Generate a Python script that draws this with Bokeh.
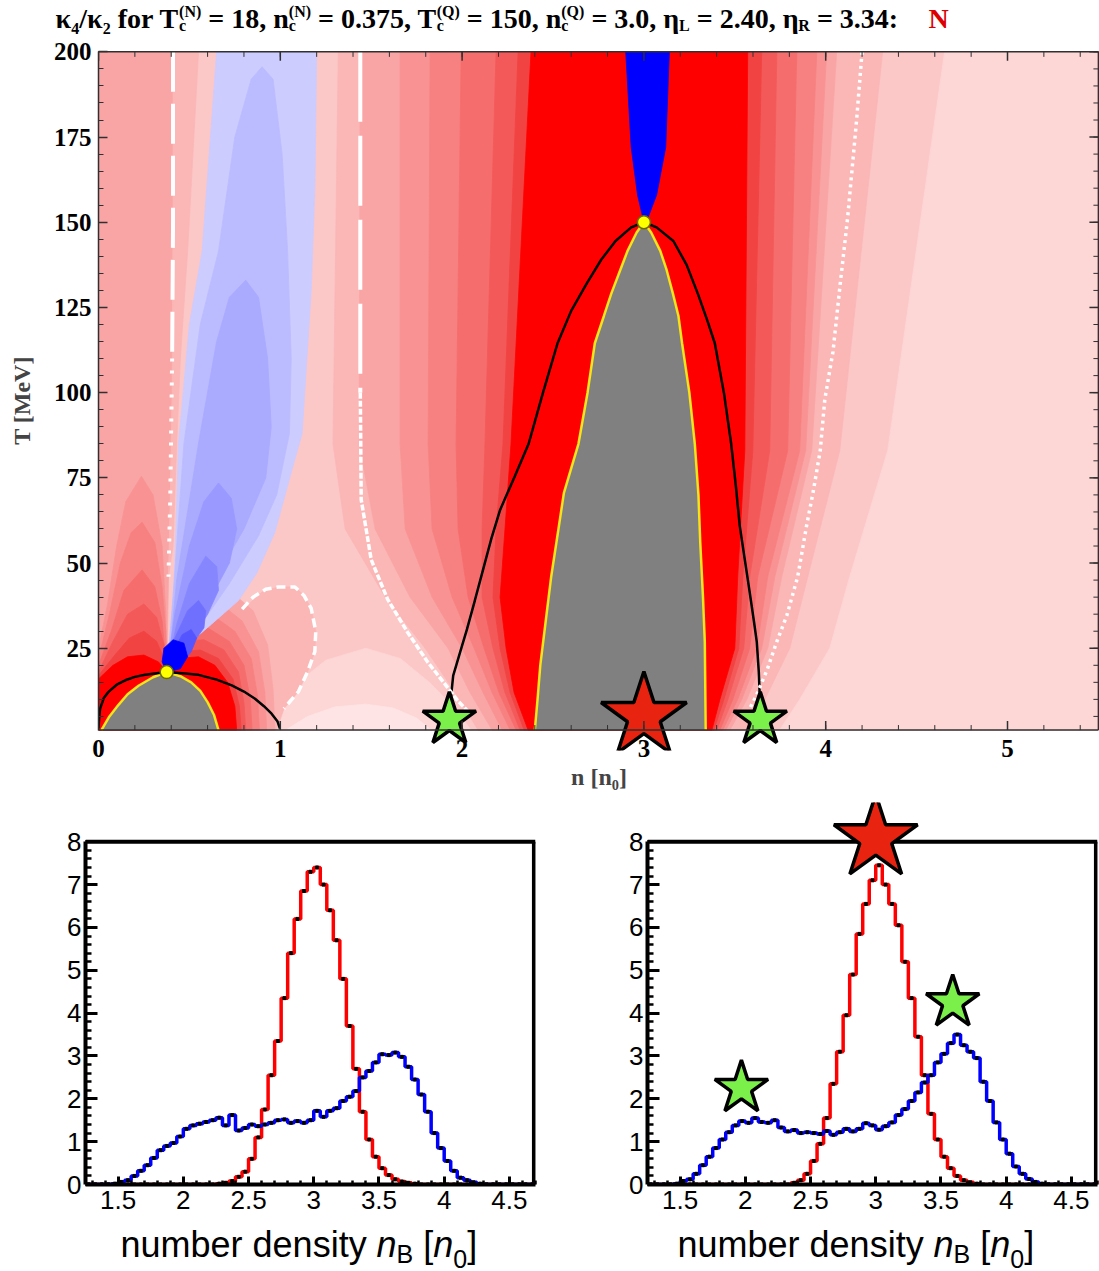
import numpy as np
from bokeh.plotting import figure
from bokeh.models import Range1d, LinearAxis, FixedTicker, Label, NumeralTickFormatter
from bokeh.layouts import column, row
from bokeh.embed import file_html
from bokeh.resources import INLINE

# ====================== kappa4/kappa2 map in the (n, T) plane ======================
N_LIM = (0.0, 5.506)
T_LIM = (-5.0, 200.4)
N_EDGE = 5.5
T_BASE = 1.0
T_TOP = 200.0
N_TICKS = [0, 1, 2, 3, 4, 5]
N_MINOR = [round(0.2 * i, 1) for i in range(28)]
T_TICKS = [25, 50, 75, 100, 125, 150, 175, 200]
T_MINOR = list(range(5, 201, 5))

CRIT_N = (0.375, 18)      # (n_c, T_c) nuclear critical point
CRIT_Q = (3.0, 150)       # (n_c, T_c) quark critical point
ETA_L, ETA_R = 2.40, 3.34

PINK = ["#fee4e4", "#fdd6d6", "#fcc7c7", "#fbb6b6", "#faa5a5", "#f99393",
        "#f78181", "#f66d6d", "#f45959", "#f24343", "#ff0000"]
BLUE = ["#ccccff", "#bbbbff", "#aaaaff", "#9999ff", "#8686ff", "#7070ff",
        "#5555ff", "#0000ff"]
GRAY = "#808080"
YELLOW = "#f4e41c"
AX_COL = "#303030"

# vertical bands around the quark critical point: left edges at BAND_LEFT_T,
# right edges at BAND_RIGHT_T (key = colour level)
BAND_LEFT_T = [1, 12, 25, 40, 60, 85, 200]
BAND_LEFT_N = {
    3: [2.088, 1.962, 1.797, 1.577, 1.357, 1.290, 1.319],
    4: [2.165, 2.044, 1.923, 1.714, 1.522, 1.434, 1.440],
    5: [2.220, 2.115, 2.000, 1.835, 1.687, 1.659, 1.659],
    6: [2.264, 2.165, 2.066, 1.945, 1.835, 1.813, 1.824],
    7: [2.297, 2.203, 2.121, 2.033, 1.978, 1.967, 1.995],
    8: [2.319, 2.236, 2.170, 2.110, 2.110, 2.126, 2.187],
    9: [2.341, 2.264, 2.209, 2.170, 2.187, 2.225, 2.308],
    10: [2.363, 2.286, 2.242, 2.209, 2.236, 2.269, 2.379],
}
BAND_RIGHT_T = [200, 83, 46, 25, 10, 1]
BAND_RIGHT_N = {
    2: [4.654, 4.341, 4.132, 4.022, 3.857, 3.747],
    3: [4.313, 4.077, 3.901, 3.802, 3.665, 3.555],
    4: [4.060, 3.923, 3.758, 3.681, 3.566, 3.473],
    5: [4.005, 3.890, 3.720, 3.648, 3.538, 3.451],
    6: [3.951, 3.857, 3.681, 3.621, 3.516, 3.434],
    7: [3.841, 3.791, 3.626, 3.582, 3.489, 3.418],
    8: [3.731, 3.692, 3.582, 3.549, 3.462, 3.401],
    9: [3.648, 3.599, 3.544, 3.522, 3.440, 3.385],
    10: [3.571, 3.555, 3.516, 3.500, 3.418, 3.374],
}

MOUND_OUTER = [(0.90, 1), (0.98, 7), (1.10, 15), (1.25, 21.5), (1.47, 25), (1.66, 22),
               (1.82, 15), (1.95, 8), (2.05, 1)]
MOUND_INNER = [(1.03, 1), (1.15, 5), (1.30, 7.8), (1.47, 8.6), (1.62, 7.5), (1.75, 4.5), (1.83, 1)]

LEFT_STRIP = [(0, 1), (0, 200), (0.41, 200), (0.41, 150), (0.405, 100), (0.395, 70),
              (0.385, 46), (0.375, 18), (0.2, 1)]
LEFT_STRIPE = [(0.385, 46), (0.395, 70), (0.405, 100), (0.41, 150), (0.41, 200), (0.55, 200),
               (0.49, 141.5), (0.45, 110), (0.43, 85), (0.41, 55)]

TONGUES = {
    5: [(0, 1), (0, 25), (0.05, 38), (0.10, 55), (0.15, 68), (0.236, 75.5), (0.30, 70),
        (0.35, 55), (0.37, 35), (0.375, 18), (0.375, 1)],
    6: [(0, 1), (0, 22), (0.06, 35), (0.12, 50), (0.18, 59), (0.24, 62), (0.31, 56),
        (0.35, 43), (0.37, 30), (0.375, 18), (0.375, 1)],
    7: [(0, 1), (0, 20), (0.07, 30), (0.14, 42), (0.24, 48), (0.31, 43), (0.35, 33),
        (0.375, 18), (0.375, 1)],
    8: [(0, 1), (0, 18), (0.08, 27), (0.16, 35), (0.25, 38), (0.32, 34), (0.36, 26),
        (0.375, 18), (0.375, 1)],
    9: [(0, 1), (0, 17), (0.09, 23), (0.17, 28), (0.25, 30), (0.32, 27), (0.36, 22),
        (0.375, 18), (0.375, 1)],
    10: [(0, 1), (0, 16), (0.08, 20), (0.16, 22.5), (0.25, 23), (0.33, 21), (0.375, 18),
         (0.375, 1)],
}

ARCS = {
    3: [(0.375, 1), (0.375, 18), (0.55, 40), (0.81, 37.2), (0.90, 41.5), (0.99, 43),
        (1.08, 43), (1.13, 40.5), (1.17, 36.7), (1.195, 30), (1.19, 24), (1.15, 18.1),
        (1.10, 12.3), (1.02, 7.3), (0.98, 1)],
    4: [(0.375, 1), (0.375, 18), (0.50, 45), (0.70, 43), (0.85, 36), (0.93, 26), (0.96, 13), (0.97, 1)],
    5: [(0.375, 1), (0.375, 18), (0.48, 40), (0.65, 39), (0.79, 33), (0.88, 24), (0.915, 12), (0.925, 1)],
    6: [(0.375, 1), (0.375, 18), (0.47, 35), (0.62, 35), (0.75, 30), (0.84, 22), (0.875, 11), (0.885, 1)],
    7: [(0.375, 1), (0.375, 18), (0.46, 31), (0.60, 31), (0.72, 27), (0.80, 20), (0.835, 10), (0.845, 1)],
    8: [(0.375, 1), (0.375, 18), (0.45, 27), (0.58, 27.5), (0.69, 24.5), (0.77, 18), (0.80, 9), (0.81, 1)],
    9: [(0.375, 1), (0.375, 18), (0.44, 24), (0.56, 24.5), (0.66, 22), (0.74, 16), (0.775, 8), (0.785, 1)],
    10: [(0.375, 1), (0.375, 18), (0.44, 22), (0.55, 22.5), (0.64, 20), (0.71, 15), (0.75, 8), (0.76, 1)],
}

PLUME = [
    [(0.375, 18), (0.40, 30), (0.42, 49), (0.44, 85), (0.50, 120), (0.57, 141.5), (0.65, 200),
     (1.20, 200), (1.19, 160), (1.17, 130), (1.12, 88), (1.07, 78.5), (0.97, 59), (0.87, 47),
     (0.77, 39), (0.62, 32), (0.49, 26)],
    [(0.38, 20), (0.41, 40), (0.47, 85), (0.56, 120), (0.66, 141.5), (0.75, 175), (0.84, 192),
     (0.90, 195.6), (0.96, 192), (1.01, 170), (1.04, 141.5), (1.06, 110), (1.05, 88), (0.98, 70),
     (0.88, 58), (0.72, 44), (0.55, 31), (0.45, 24)],
    [(0.39, 22), (0.43, 45), (0.55, 85), (0.65, 115), (0.72, 128), (0.81, 133), (0.88, 128),
     (0.93, 110), (0.95, 90), (0.92, 75), (0.80, 60), (0.65, 46), (0.50, 30)],
    [(0.375, 18), (0.42, 35), (0.50, 55), (0.58, 68), (0.66, 73.5), (0.73, 69), (0.76, 60),
     (0.72, 50), (0.62, 40), (0.50, 28)],
    [(0.375, 18), (0.43, 32), (0.50, 44), (0.59, 52), (0.65, 49), (0.66, 42), (0.60, 35), (0.48, 25)],
    [(0.375, 18), (0.42, 28), (0.49, 36), (0.55, 39), (0.59, 36), (0.58, 31), (0.50, 25), (0.44, 21)],
    [(0.375, 18), (0.41, 24), (0.46, 29), (0.51, 30.5), (0.54, 28), (0.51, 24), (0.45, 20)],
    [(0.375, 18), (0.35, 21), (0.36, 25), (0.41, 27.5), (0.47, 26.5), (0.49, 22.5), (0.45, 19)],
]
QUARK_COLUMN = [(3.0, 150), (2.965, 158), (2.93, 172), (2.90, 200), (3.14, 200), (3.12, 172),
                (3.07, 158), (3.02, 151)]

LEFT_SPINODAL = [(0.016, 1), (0.06, 5), (0.11, 8.4), (0.16, 11.5), (0.22, 14), (0.30, 16.5),
                 (0.375, 18), (0.45, 16.8), (0.51, 15), (0.56, 12.5), (0.60, 9.2), (0.635, 5.5),
                 (0.66, 1)]
LEFT_BINODAL = [(0.0, 1.5), (0.004, 5), (0.009, 7.3), (0.03, 10.5), (0.055, 12.2), (0.10, 14.3),
                (0.147, 15.6), (0.20, 16.6), (0.256, 17.2), (0.32, 17.7), (0.375, 18), (0.46, 17.7),
                (0.55, 17.2), (0.65, 15.8), (0.733, 14.1), (0.80, 12.3), (0.861, 10.2),
                (0.91, 8.0), (0.952, 5.8), (0.985, 3.5), (0.998, 1.4)]
RIGHT_SPINODAL = [(2.40, 1), (2.415, 10), (2.43, 20), (2.46, 33), (2.49, 46), (2.53, 60),
                  (2.56, 70.6), (2.64, 85), (2.69, 100), (2.73, 114.5), (2.78, 122.5), (2.82, 129),
                  (2.87, 136), (2.91, 141.6), (2.96, 147), (3.0, 150), (3.04, 147), (3.09, 141.6),
                  (3.125, 136), (3.16, 129), (3.19, 122.5), (3.21, 114.5), (3.25, 100), (3.28, 85),
                  (3.30, 70), (3.31, 56), (3.325, 40), (3.335, 26.8), (3.34, 1)]
RIGHT_BINODAL = [(1.934, 6), (1.94, 11.3), (1.951, 17), (1.99, 24), (2.027, 30.6), (2.07, 39),
                 (2.115, 48), (2.16, 57), (2.209, 65.6), (2.29, 75.5), (2.366, 85), (2.445, 100),
                 (2.525, 114.5), (2.60, 124), (2.685, 132), (2.765, 139), (2.844, 144.5),
                 (2.93, 148.5), (3.0, 150), (3.07, 148.5), (3.162, 144.5), (3.235, 137.5),
                 (3.297, 129), (3.35, 121), (3.39, 114.5), (3.44, 100), (3.48, 85), (3.505, 73),
                 (3.527, 61), (3.555, 51), (3.582, 41.4), (3.605, 33), (3.621, 26.8),
                 (3.632, 18), (3.637, 11.3), (3.64, 6)]

WHITE_A_DASH = [(0.41, 200), (0.41, 150), (0.405, 110)]
WHITE_A_DOT = [(0.405, 110), (0.40, 90), (0.395, 70), (0.385, 46)]
WHITE_B_DASH = [(1.44, 200), (1.44, 100)]
WHITE_B_LOW = [(1.44, 100), (1.445, 68.6), (1.50, 51), (1.59, 39.4), (1.70, 29.7), (1.81, 21),
               (1.91, 14.2), (1.97, 10), (2.04, 6)]
WHITE_OVAL = [(0.79, 36.5), (0.85, 40), (0.92, 42.3), (0.99, 43), (1.08, 43), (1.13, 40.5),
              (1.17, 36.7), (1.195, 30), (1.19, 24), (1.15, 18.1), (1.10, 12.3), (1.02, 7.3)]
WHITE_C = [(4.20, 200), (4.17, 180), (4.12, 151), (4.08, 132), (4.04, 112), (3.995, 98),
           (3.97, 83), (3.93, 70.6), (3.895, 61), (3.846, 46), (3.786, 34.6), (3.73, 26.8),
           (3.68, 19), (3.62, 11.3), (3.56, 5)]

MAP_STARS_N = [1.93, 3.0, 3.64]
MAP_STARS_T = [4.0, 5.0, 4.0]

# ====================== number-density histograms ======================
H_LO, H_HI, H_W = 1.25, 4.70, 0.05
LEFT_RED_START = 2.25
LEFT_RED = [0.02, 0.04, 0.08, 0.18, 0.3, 0.6, 1.1, 1.75, 2.55, 3.35, 4.35, 5.4, 6.2, 6.85,
            7.3, 7.4, 7.0, 6.4, 5.7, 4.8, 3.7, 2.7, 1.7, 1.05, 0.65, 0.38, 0.22, 0.12, 0.07,
            0.04, 0.02]
LEFT_BLUE_START = 1.45
LEFT_BLUE = [0.02, 0.06, 0.1, 0.2, 0.32, 0.45, 0.62, 0.8, 0.9, 0.97, 1.12, 1.3, 1.38, 1.42,
             1.46, 1.5, 1.56, 1.38, 1.62, 1.26, 1.32, 1.4, 1.36, 1.4, 1.44, 1.5, 1.52, 1.44,
             1.48, 1.44, 1.5, 1.72, 1.58, 1.72, 1.78, 1.95, 2.05, 2.18, 2.5, 2.65, 2.85, 3.04,
             3.02, 3.08, 2.98, 2.75, 2.45, 2.1, 1.7, 1.2, 0.85, 0.55, 0.32, 0.16, 0.1, 0.05, 0.02]
RIGHT_RED_START = 2.35
RIGHT_RED = [0.04, 0.1, 0.25, 0.55, 0.95, 1.55, 2.35, 3.1, 3.95, 4.9, 5.85, 6.55, 7.1, 7.45,
             7.0, 6.55, 6.05, 5.2, 4.35, 3.45, 2.55, 1.65, 1.05, 0.65, 0.38, 0.2, 0.1, 0.05, 0.02]
RIGHT_BLUE_START = 1.45
RIGHT_BLUE = [0.02, 0.08, 0.12, 0.25, 0.45, 0.65, 0.85, 1.05, 1.22, 1.38, 1.48, 1.44, 1.55,
              1.46, 1.44, 1.5, 1.33, 1.24, 1.27, 1.2, 1.22, 1.2, 1.18, 1.25, 1.16, 1.22, 1.3,
              1.24, 1.3, 1.43, 1.38, 1.28, 1.36, 1.45, 1.62, 1.76, 1.95, 2.15, 2.38, 2.55, 2.85,
              3.05, 3.3, 3.5, 3.25, 3.1, 2.95, 2.4, 1.95, 1.45, 1.05, 0.72, 0.42, 0.25, 0.13,
              0.06, 0.02]
HIST_STAR_RED = (3.0, 8.08)
HIST_STARS_GREEN = ([1.97, 3.59], [2.25, 4.25])
X_TICKS_H = [1.5, 2, 2.5, 3, 3.5, 4, 4.5]
Y_TICKS_H = [0, 1, 2, 3, 4, 5, 6, 7, 8]

STAR_RED = "#e8230f"
STAR_GREEN = "#7cf04a"

# glyph advance widths (1/1000 em) for composing mixed-size labels
SERIF_BOLD_W = {' ': 250, '(': 333, ')': 333, ',': 250, '.': 250, '/': 278, ':': 333, '=': 570,
                'L': 667, 'N': 722, 'Q': 778, 'R': 722, 'T': 667, 'c': 444, 'f': 333, 'n': 556,
                'o': 500, 'r': 444, '[': 333, ']': 333, 'κ': 560, 'η': 560}
SANS_W = {' ': 278, 'n': 556, 'u': 556, 'm': 833, 'b': 556, 'e': 556, 'r': 333, 'd': 556,
          's': 500, 'i': 222, 't': 278, 'y': 500, '[': 278, ']': 278, 'B': 667, '0': 556}
DESCENT = 0.216   # font descent below the baseline, in em


def text_w(s, table):
    return sum(table.get(c, 500) for c in s) / 1000.0


def unzip(pts):
    return [p[0] for p in pts], [p[1] for p in pts]


def rich_label(p, x, y, pieces, font, size, small, table, style="normal",
               color="black", sub_dy=6, sup_dy=11):
    """Lay out a run of text pieces (plain, subscript, stacked sup/sub) in pixel units;
    y is the baseline of the main text."""
    off = [0.0]

    def put(text, yy, fs, st):
        lead = len(text) - len(text.lstrip(" "))
        body = text.strip(" ")
        trail = len(text) - lead - len(body)
        sp = table[" "] / 1000.0 * fs
        start = off[0] + lead * sp
        if body:
            p.add_layout(Label(x=x + start, y=yy - DESCENT * fs, text=body, text_font=font,
                               text_font_size=f"{fs}px", text_font_style=st, text_color=color,
                               text_baseline="bottom", text_align="left"))
        return lead * sp + text_w(body, table) * fs + trail * sp

    for pc in pieces:
        kind = pc[0]
        if kind == "t":
            st = pc[2] if len(pc) > 2 else style
            off[0] += put(pc[1], y, size, st)
        elif kind == "sub":
            off[0] += put(pc[1], y - sub_dy, small, style)
        elif kind == "stack":
            w1 = put(pc[1], y + sup_dy, small, style)
            w2 = put(pc[2], y - sub_dy, small, style)
            off[0] += max(w1, w2)
    return off[0]


def text_strip(width, height):
    """A bare canvas whose data units are pixels, used for free-standing text."""
    s = figure(width=width, height=height, x_range=Range1d(0, width), y_range=Range1d(0, height),
               output_backend="svg", toolbar_location=None, x_axis_location=None,
               y_axis_location=None, min_border_left=0, min_border_right=0,
               min_border_top=0, min_border_bottom=0, frame_align=False)
    s.outline_line_color = None
    for g in s.grid:
        g.visible = False
    return s


# ---------------- title line ----------------
TITLE_H = 36
title = text_strip(1099, TITLE_H)
title_pieces = [
    ("t", "κ"), ("sub", "4"), ("t", "/κ"), ("sub", "2"), ("t", " for T"), ("stack", "(N)", "c"),
    ("t", f" = {CRIT_N[1]}, n"), ("stack", "(N)", "c"), ("t", f" = {CRIT_N[0]}, T"),
    ("stack", "(Q)", "c"), ("t", f" = {CRIT_Q[1]}, n"), ("stack", "(Q)", "c"),
    ("t", f" = {CRIT_Q[0]:.1f}, η"), ("sub", "L"), ("t", f" = {ETA_L:.2f}, η"), ("sub", "R"),
    ("t", f" = {ETA_R:.2f}:"),
]
TITLE_BASE = 9
rich_label(title, 55, TITLE_BASE, title_pieces, "Liberation Serif", 28, 16, SERIF_BOLD_W,
           style="bold", sub_dy=3, sup_dy=11)
rich_label(title, 928, TITLE_BASE, [("t", "N")], "Liberation Serif", 28, 16, SERIF_BOLD_W,
           style="bold", color="#dd0000")

# ---------------- map ----------------
MAP_FRAME_H = 700
MAP_TOP_PAD = 14
SX = 1001 / (N_LIM[1] - N_LIM[0])
SY = MAP_FRAME_H / (T_LIM[1] - T_LIM[0])

top = figure(width=1099, height=MAP_TOP_PAD + MAP_FRAME_H + 52, x_range=Range1d(*N_LIM),
             y_range=Range1d(*T_LIM), output_backend="svg", toolbar_location=None,
             x_axis_location=None, y_axis_location=None, min_border_left=98,
             min_border_right=0, min_border_top=MAP_TOP_PAD, min_border_bottom=52,
             frame_align=False)
top.outline_line_color = None
for g in top.grid:
    g.visible = False

layers = [(PINK[2], [(0, T_BASE), (0, T_TOP), (N_EDGE, T_TOP), (N_EDGE, T_BASE)])]
far = list(zip(BAND_RIGHT_N[2][::-1], BAND_RIGHT_T[::-1])) + [(N_EDGE, T_TOP), (N_EDGE, T_BASE)]
layers.append((PINK[1], far))
layers.append((PINK[1], MOUND_OUTER))
layers.append((PINK[0], MOUND_INNER))
for k in range(3, 11):
    pts = list(zip(BAND_LEFT_N[k], BAND_LEFT_T)) + list(zip(BAND_RIGHT_N[k], BAND_RIGHT_T))
    layers.append((PINK[k], pts))
layers.append((PINK[4], LEFT_STRIP))
layers.append((PINK[3], LEFT_STRIPE))
for k in range(5, 11):
    layers.append((PINK[k], TONGUES[k]))
for k in range(3, 11):
    layers.append((PINK[k], ARCS[k]))
for i, shape in enumerate(PLUME):
    layers.append((BLUE[i], shape))
layers.append((BLUE[-1], QUARK_COLUMN))

xs, ys, cols = [], [], []
for c, pts in layers:
    a, b = unzip(pts)
    xs.append(a)
    ys.append(b)
    cols.append(c)
top.patches(xs=xs, ys=ys, fill_color=cols, line_color=cols, line_width=0.8)

for shape in (LEFT_SPINODAL, RIGHT_SPINODAL):
    a, b = unzip(shape)
    top.patch(a, b, fill_color=GRAY, line_color=None)
    top.line(a, b, line_color=YELLOW, line_width=2.5)
for shape in (LEFT_BINODAL, RIGHT_BINODAL):
    a, b = unzip(shape)
    top.line(a, b, line_color="black", line_width=2.5)

for shape, dash, w in ((WHITE_A_DASH, "40 12", 4), (WHITE_A_DOT, "3 9", 4),
                       (WHITE_B_DASH, "70 14", 4), (WHITE_B_LOW, "6 2", 3.5),
                       (WHITE_OVAL, "9 5", 3.5), (WHITE_C, "3 4", 3.5)):
    a, b = unzip(shape)
    top.line(a, b, line_color="white", line_width=w, line_dash=dash)

top.scatter([CRIT_N[0], CRIT_Q[0]], [CRIT_N[1], CRIT_Q[1]], marker="circle", size=13,
            fill_color="#ffff00", line_color="#6b6b00", line_width=1.5)
top.scatter(MAP_STARS_N, MAP_STARS_T, marker="star", size=[56, 90, 56],
            fill_color=[STAR_GREEN, STAR_RED, STAR_GREEN], line_color="black", line_width=3.5)

# frame lines and inward ticks on the bottom, top and right edges
top.segment(x0=[0, 0, N_EDGE], y0=[T_BASE, T_TOP, T_BASE], x1=[N_EDGE, N_EDGE, N_EDGE],
            y1=[T_BASE, T_TOP, T_TOP], line_color=AX_COL, line_width=1.5)
maj_x, min_x = 9 / SX, 5 / SX
maj_t, min_t = 9 / SY, 5 / SY
top.segment(x0=N_TICKS * 2, y0=[T_BASE] * 6 + [T_TOP] * 6, x1=N_TICKS * 2,
            y1=[T_BASE + maj_t] * 6 + [T_TOP - maj_t] * 6, line_color=AX_COL, line_width=1.5)
nm = len(N_MINOR)
top.segment(x0=N_MINOR * 2, y0=[T_BASE] * nm + [T_TOP] * nm, x1=N_MINOR * 2,
            y1=[T_BASE + min_t] * nm + [T_TOP - min_t] * nm, line_color=AX_COL, line_width=1)
top.segment(x0=[N_EDGE] * len(T_TICKS), y0=T_TICKS, x1=[N_EDGE - maj_x] * len(T_TICKS),
            y1=T_TICKS, line_color=AX_COL, line_width=1.5)
top.segment(x0=[N_EDGE] * len(T_MINOR), y0=T_MINOR, x1=[N_EDGE - min_x] * len(T_MINOR),
            y1=T_MINOR, line_color=AX_COL, line_width=1)

yax = LinearAxis(ticker=FixedTicker(ticks=T_TICKS, minor_ticks=T_MINOR), bounds=(T_BASE, T_TOP))
yax.major_tick_in = 9
yax.major_tick_out = 0
yax.minor_tick_in = 5
yax.minor_tick_out = 0
yax.axis_line_color = AX_COL
yax.axis_line_width = 1.5
yax.major_tick_line_color = AX_COL
yax.minor_tick_line_color = AX_COL
yax.major_tick_line_width = 1.5
yax.major_label_text_font = "Liberation Serif"
yax.major_label_text_font_style = "bold"
yax.major_label_text_font_size = "25px"
yax.major_label_text_color = "black"
yax.major_label_standoff = 7
yax.axis_label = "T [MeV]"
yax.axis_label_text_font = "Liberation Serif"
yax.axis_label_text_font_style = "bold"
yax.axis_label_text_font_size = "24px"
yax.axis_label_standoff = 16
top.add_layout(yax, "left")

xax = LinearAxis(ticker=FixedTicker(ticks=N_TICKS, minor_ticks=[]))
xax.axis_line_color = None
xax.major_tick_line_color = None
xax.minor_tick_line_color = None
xax.major_tick_in = 0
xax.major_tick_out = 0
xax.major_label_text_font = "Liberation Serif"
xax.major_label_text_font_style = "bold"
xax.major_label_text_font_size = "25px"
xax.major_label_text_color = "black"
xax.major_label_standoff = -11
xax.axis_label = "n [n₀]"
xax.axis_label_text_font = "Liberation Serif"
xax.axis_label_text_font_style = "bold"
xax.axis_label_text_font_size = "24px"
xax.axis_label_standoff = 4
top.add_layout(xax, "below")

# ---------------- histogram panels ----------------
EDGES = [round(H_LO + H_W * i, 2) for i in range(int(round((H_HI - H_LO) / H_W)) + 1)]
NBINS = len(EDGES) - 1
CENTERS = [round(e + H_W / 2, 3) for e in EDGES[:-1]]


def padded(start, vals):
    out = [0.0] * NBINS
    i0 = int(round((start - H_LO) / H_W))
    out[i0:i0 + len(vals)] = vals
    return out


H_FRAME = 382
H_YMAX = H_FRAME / 42.84


def hist_panel(width, left, right, red, blue):
    p = figure(width=width, height=H_FRAME + 38, x_range=Range1d(H_LO, H_HI),
               y_range=Range1d(0, H_YMAX), output_backend="svg", toolbar_location=None,
               x_axis_location=None, y_axis_location=None, min_border_left=left,
               min_border_right=right, min_border_top=0, min_border_bottom=38,
               frame_align=False)
    p.outline_line_color = None
    for g in p.grid:
        g.visible = False

    ya = LinearAxis(ticker=FixedTicker(ticks=Y_TICKS_H,
                                       minor_ticks=[round(0.2 * i, 1) for i in range(41)]),
                    bounds=(0, 8))
    xa = LinearAxis(ticker=FixedTicker(ticks=X_TICKS_H,
                                       minor_ticks=[round(1.3 + 0.1 * i, 1) for i in range(35)]),
                    formatter=NumeralTickFormatter(format="0.[0]"))
    for ax, mj, mn in ((ya, 12, 6), (xa, 8, 4)):
        ax.major_tick_in = mj
        ax.major_tick_out = 0
        ax.minor_tick_in = mn
        ax.minor_tick_out = 0
        ax.axis_line_width = 4
        ax.axis_line_color = "black"
        ax.major_tick_line_width = 3
        ax.minor_tick_line_width = 2.5
        ax.major_tick_line_color = "black"
        ax.minor_tick_line_color = "black"
        ax.major_label_text_font = "Liberation Sans"
        ax.major_label_text_font_size = "26px"
        ax.major_label_text_color = "black"
    ya.major_label_standoff = 4
    xa.major_label_standoff = 6
    p.add_layout(ya, "left")
    p.add_layout(xa, "below")
    p.segment(x0=[H_LO, H_HI - 0.012], y0=[8, 0], x1=[H_HI, H_HI - 0.012], y1=[8, 8],
              line_color="black", line_width=4)

    for vals, col in ((red, "#ff0000"), (blue, "#0000ff")):
        p.step(x=EDGES, y=vals + [vals[-1]], mode="after", line_color=col, line_width=3.5)
        p.scatter(CENTERS, vals, marker="square", size=3, color="black")
    return p


left_p = hist_panel(558, 85, 23, padded(LEFT_RED_START, LEFT_RED),
                    padded(LEFT_BLUE_START, LEFT_BLUE))
right_p = hist_panel(541, 89, 2, padded(RIGHT_RED_START, RIGHT_RED),
                     padded(RIGHT_BLUE_START, RIGHT_BLUE))
right_p.scatter([HIST_STAR_RED[0]], [HIST_STAR_RED[1]], marker="star", size=88,
                fill_color=STAR_RED, line_color="black", line_width=3.5)
right_p.scatter(HIST_STARS_GREEN[0], HIST_STARS_GREEN[1], marker="star", size=56,
                fill_color=STAR_GREEN, line_color="black", line_width=3.5)

# ---------------- axis titles of the histograms ----------------
xlabels = text_strip(1099, 49)
nb_pieces = [("t", "number density "), ("t", "n", "italic"), ("sub", "B"), ("t", " ["),
             ("t", "n", "italic"), ("sub", "0"), ("t", "]")]
for x0 in (120, 677):
    rich_label(xlabels, x0, 14, nb_pieces, "Liberation Sans", 36, 25, SANS_W, sub_dy=5)

layout = column(title, top, row(left_p, right_p), xlabels)
open("out.html", "w").write(file_html(layout, INLINE))
